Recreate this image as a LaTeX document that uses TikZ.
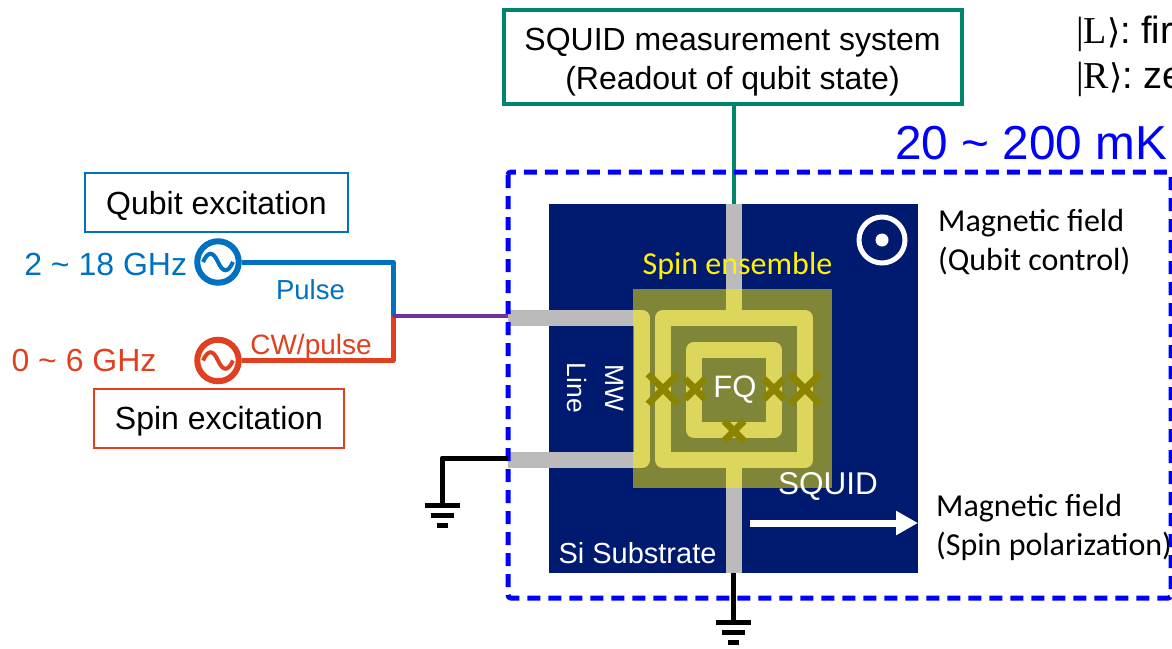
\documentclass[tikz,border=0pt]{standalone}
\usepackage{fontspec}
\setmainfont{Liberation Sans}
\newfontfamily\carlitofont{Carlito}
\newfontfamily\timesfont{Liberation Serif}
\newfontfamily\dejafont{DejaVu Sans}
\usetikzlibrary{arrows.meta, positioning, calc}
\definecolor{qubitblue}{HTML}{0070C0}
\definecolor{spinred}{HTML}{E04020}
\definecolor{mixpurple}{HTML}{7030A0}
\definecolor{readteal}{HTML}{00856D}
\definecolor{subnavy}{HTML}{001A70}
\definecolor{metalgray}{HTML}{BBBBBB}
\definecolor{junctolive}{HTML}{8B8400}

\begin{document}
\begin{tikzpicture}[
  x=1pt, y=-1pt,
  font=\fontsize{32}{39}\selectfont,
  box/.style={draw=#1, line width=2pt, inner sep=0pt, align=center, minimum height=59pt, text height=23pt, text depth=0pt},
  source/.style={circle, draw=#1, line width=6pt, fill=white, inner sep=0pt, minimum size=41.5pt,
    path picture={\draw[#1, line width=4pt] (path picture bounding box.center) ++(-15,0)
      .. controls +(5,-11) and +(-5,-11) .. ++(15,0)
      .. controls +(5,11) and +(-5,11) .. ++(15,0);}},
  wire/.style={line width=5pt, line join=round},
  metal/.style={draw=metalgray, line width=16pt, line join=round},
  onchip/.style={text=white, inner sep=0pt},
  fieldlabel/.style={font=\carlitofont\fontsize{32}{39}\selectfont, align=left, inner sep=0pt, anchor=west},
  freq/.style={text=#1, inner sep=0pt},
  statelabel/.style={anchor=base west, inner sep=0pt, font=\fontsize{38}{44}\selectfont},
  bar/.style={line width=5pt}
]
\useasboundingbox (0,0) rectangle (1172,648);

% SUBSTRATE AND METAL
\node[fill=subnavy, inner sep=0pt, minimum size=369pt] (substrate) at (733.5,388.5) {};
\coordinate (mwtop) at (508,318);
\coordinate (mwbot) at (508,460);
\draw[metal] (mwtop) -- (642,318) -- (642,460) -- (mwbot);
\draw[metal] (663,318) rectangle (805,460);
\draw[metal] (694,350) rectangle (774,430);
\draw[metal] (734,204) -- (734,318);
\draw[metal] (734,460) -- (734,573);

% SPIN ENSEMBLE
\node[fill=yellow, fill opacity=.5, inner sep=0pt, minimum size=199pt] (spin) at (732.5,388.5) {};
\node[font=\carlitofont\fontsize{32}{38}\selectfont, text=yellow, inner sep=0pt] (spinlabel) at (737.5,266) {Spin ensemble};
\foreach \x/\y/\s in {663/389/15, 805/389/15, 695/389/10, 774/389/10, 734/431/10}
  \draw[junctolive, line width=7pt] ({\x-\s},{\y-\s}) -- ({\x+\s},{\y+\s}) ({\x-\s},{\y+\s}) -- ({\x+\s},{\y-\s});

% CHIP LABELS
\node[onchip, font=\fontsize{31}{36}\selectfont] (fq) at (735,390) {FQ};
\node[onchip, font=\fontsize{31.5}{36}\selectfont] (squid) at (828,486) {SQUID};
\node[onchip, font=\fontsize{29}{34}\selectfont] (si) at (637.5,553) {Si Substrate};
\node[onchip, font=\fontsize{26.5}{38}\selectfont, rotate=-90, align=center] (mw) at (595,388) {MW\\Line};

% FIELD SYMBOLS
\node[circle, draw=white, line width=5pt, inner sep=0pt, minimum size=46pt] (fieldout) at (882,240) {};
\node[circle, fill=white, inner sep=0pt, minimum size=13pt] (fielddot) at (fieldout) {};
\coordinate (arrowstart) at (750,523);
\coordinate (arrowend) at (918,523);
\draw[white, line width=7pt, -{Triangle[length=22pt, width=23pt]}] (arrowstart) -- (arrowend);
\node[fieldlabel] (fieldq) at (938,242) {Magnetic field\\(Qubit control)};
\node[fieldlabel] (fields) at (936,527) {Magnetic field\\(Spin polarization)};

% READOUT
\node[draw=readteal, line width=4pt, minimum width=458pt, minimum height=94pt, align=center, inner sep=0pt] (readout) at (732.5,57)
  {\rule{0pt}{32pt}SQUID measurement system\\(Readout of qubit state)};
\coordinate (squidtop) at (734,204);
\draw[readteal, line width=4pt] (readout.south -| squidtop) -- (squidtop);

% FRIDGE
\draw[blue, line width=5pt, dash pattern=on 13pt off 8pt, rounded corners=3pt] (508,172) rectangle (1171,598);
\node[text=blue, font=\fontsize{47.7}{52}\selectfont, inner sep=0pt] (temp) at (1031,143) {20 \textasciitilde{} 200 mK};

% STATES
\node[statelabel] (stateL) at (1076,43) {{\timesfont|L}{\dejafont\fontsize{34}{40}\selectfont⟩}: fir};
\node[statelabel] (stateR) at (1076,88) {{\timesfont|R}{\dejafont\fontsize{34}{40}\selectfont⟩}: ze};

% EXCITATION
\node[source=qubitblue] (qsrc) at (218,262) {};
\node[source=spinred] (ssrc) at (218,360.5) {};
\node[box=qubitblue, minimum width=263pt, above=5pt of qsrc, xshift=-1.5pt] (qbox) {Qubit excitation};
\node[box=spinred, minimum width=250pt, below=3.5pt of ssrc, xshift=1pt] (sbox) {Spin excitation};
\node[freq=qubitblue, left=7pt of qsrc.west, yshift=-2pt] (qfreq) {2 \textasciitilde{} 18 GHz};
\node[freq=spinred] (sfreq) at (84,360.5) {0 \textasciitilde{} 6 GHz};
\node[text=qubitblue, inner sep=0pt, font=\fontsize{27.5}{32}\selectfont] (pulse) at (310.5,289.5) {Pulse};
\node[text=spinred, inner sep=0pt, font=\fontsize{28}{32}\selectfont] (cw) at (311,347.5) {CW/pulse};
\coordinate (join) at (393,316);
\coordinate (mwin) at (508,316);
\draw[qubitblue, wire] (qsrc.east) -| (join);
\draw[spinred, wire] (ssrc.east) -| (join);
\draw[mixpurple, line width=4pt] (join) -- (mwin);

% GROUNDS
\coordinate (gndleft) at (442,505);
\coordinate (gndbot) at (733.5,622);
\coordinate (squidbot) at (733.5,573);
\draw[black, wire] (mwbot |- 0,458) -| (gndleft);
\draw[black, wire] (squidbot) -- (gndbot);
\foreach \g in {gndleft, gndbot} {
  \draw[bar] ($(\g)+(-17.5,0)$) -- ($(\g)+(17.5,0)$);
  \draw[bar] ($(\g)+(-11.5,10.5)$) -- ($(\g)+(11.5,10.5)$);
  \draw[bar] ($(\g)+(-5.5,20.5)$) -- ($(\g)+(5.5,20.5)$);
}

\end{tikzpicture}
\end{document}
